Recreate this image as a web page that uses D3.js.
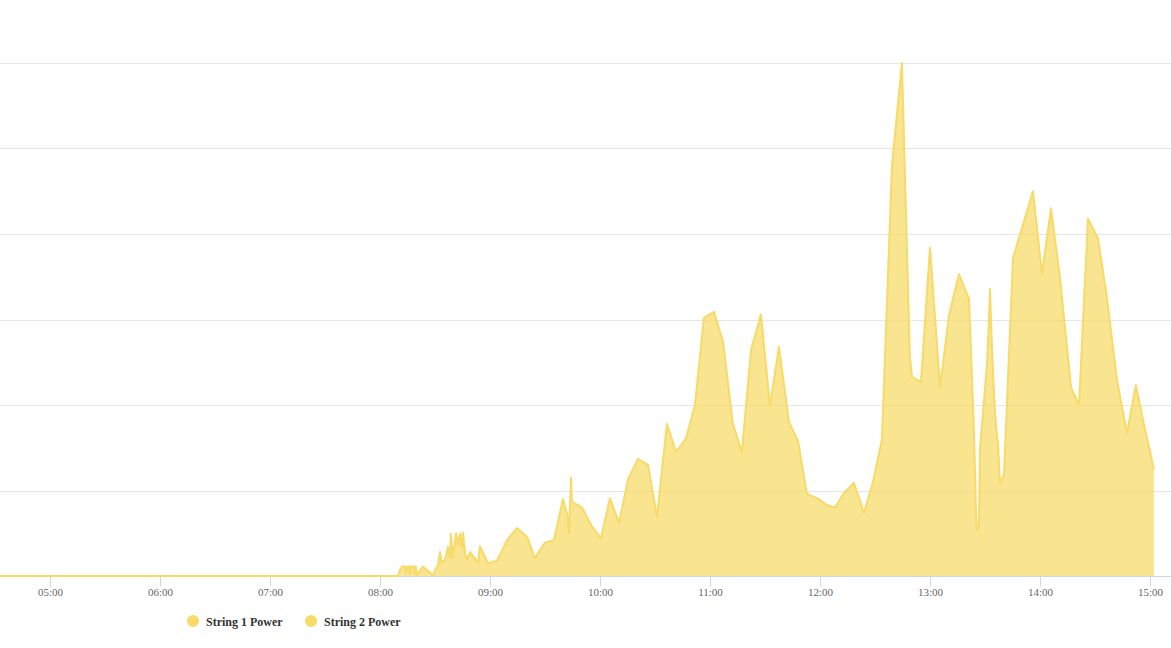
<!DOCTYPE html>
<html>
<head>
<meta charset="utf-8">
<script src="https://cdn.jsdelivr.net/npm/d3@7"></script>
<style>
  html, body { margin: 0; padding: 0; background: #ffffff; }
  svg { display: block; }
</style>
</head>
<body>
<svg id="chart" width="1171" height="648"></svg>
<script>
// ---- data ----
const seriesNames = ["String 1 Power", "String 2 Power"];
const string1Times = [
  "04:32:44","08:09:48","08:10:54","08:12:00","08:13:36","08:14:12","08:14:42","08:15:48","08:16:24","08:16:54",
  "08:18:30","08:19:06","08:19:36","08:20:12","08:23:24","08:28:54","08:30:30","08:31:36","08:32:42","08:33:48",
  "08:35:30","08:37:06","08:38:12","08:38:42","08:39:48","08:41:30","08:42:30","08:43:36","08:44:42","08:45:18",
  "08:46:24","08:47:30","08:49:06","08:53:30","08:54:30","08:58:54","09:03:48","09:09:18","09:14:42","09:20:12",
  "09:24:30","09:30:00","09:34:54","09:39:48","09:42:30","09:43:06","09:44:12","09:44:42","09:50:12","09:55:36",
  "10:00:30","10:05:24","10:10:24","10:15:18","10:20:42","10:26:12","10:31:06","10:36:30","10:41:30","10:46:54",
  "10:51:48","10:56:42","11:02:12","11:07:06","11:12:30","11:17:24","11:22:24","11:27:48","11:32:42","11:37:36",
  "11:43:06","11:48:00","11:52:54","11:58:24","12:03:48","12:08:12","12:13:06","12:18:30","12:24:00","12:28:54",
  "12:33:48","12:39:18","12:44:42","12:49:00","12:50:12","12:55:06","13:00:00","13:05:30","13:10:24","13:15:48",
  "13:21:18","13:24:00","13:25:06","13:25:36","13:26:42","13:27:18","13:31:06","13:32:12","13:32:42","13:33:48",
  "13:35:30","13:37:06","13:38:12","13:40:24","13:45:18","13:56:12","14:01:06","14:06:00","14:10:54","14:16:54",
  "14:21:18","14:26:12","14:31:36","14:36:30","14:42:00","14:47:24","14:52:18","14:57:18","15:02:12"
];
const string1Values = [
  0, 0, 7, 11, 11, 3, 11, 11, 2, 11,
  11, 3, 11, 1, 11, 1, 9, 12, 28, 15,
  19, 34, 21, 49, 22, 50, 36, 50, 33, 51,
  27, 19, 28, 16, 35, 15, 18, 42, 56, 46,
  21, 39, 42, 90, 69, 50, 115, 87, 80, 58,
  44, 91, 62, 113, 137, 130, 69, 178, 145, 161,
  200, 302, 309, 274, 178, 145, 264, 306, 199, 268,
  180, 158, 96, 91, 83, 80, 97, 109, 74, 110,
  159, 481, 600, 257, 233, 227, 384, 221, 305, 353,
  324, 168, 75, 54, 58, 149, 248, 301, 336, 268,
  188, 154, 108, 120, 372, 450, 353, 430, 349, 221,
  200, 418, 395, 326, 229, 167, 223, 171, 125
];
const string2Times = [];
const string2Values = [];
const xDomainTimes = ["04:32:44", "15:11:28"];
const tickLabels = ["05:00","06:00","07:00","08:00","09:00","10:00","11:00","12:00","13:00","14:00","15:00"];
const yDomain = [0, 600];
const yGridValues = [100, 200, 300, 400, 500, 600];

// ---- chart ----
const W = 1171, H = 648;
const plot = { left: 0, right: 1171, top: 63, bottom: 576 };
const parseT = d3.timeParse("%Y-%m-%d %H:%M:%S");
const toDate = s => parseT("2024-06-01 " + s);

const colorLine = "#f7da68";
const colorFill = "#f7da64";

const svg = d3.select("#chart");

const x = d3.scaleTime()
  .domain(xDomainTimes.map(toDate))
  .range([plot.left, plot.right]);
const y = d3.scaleLinear().domain(yDomain).range([plot.bottom, plot.top]);

// grid
svg.append("g")
  .attr("class", "grid")
  .selectAll("line")
  .data(yGridValues)
  .join("line")
  .attr("x1", plot.left).attr("x2", plot.right)
  .attr("y1", d => Math.round(y(d)) + 0.5).attr("y2", d => Math.round(y(d)) + 0.5)
  .attr("stroke", "#e6e6e6").attr("stroke-width", 1);

// x axis
const tickDates = tickLabels.map(s => toDate(s + ":00"));
const xAxis = d3.axisBottom(x)
  .tickValues(tickDates)
  .tickFormat((d, i) => tickLabels[i])
  .tickSize(10)
  .tickPadding(2);
const gx = svg.append("g")
  .attr("transform", `translate(0,${plot.bottom + 0.5})`)
  .call(xAxis);
gx.select(".domain").remove();
gx.append("line")
  .attr("x1", plot.left).attr("x2", plot.right)
  .attr("y1", 0).attr("y2", 0)
  .attr("stroke", "#ccd6eb").attr("stroke-width", 1);
gx.selectAll(".tick line").attr("stroke", "#ccd6eb");
gx.selectAll(".tick text")
  .attr("fill", "#666666")
  .style("font-family", "'Liberation Serif', 'Times New Roman', serif")
  .style("font-size", "11px");

// series
const seriesData = [
  { name: seriesNames[0], pts: string1Times.map((t, i) => ({ t: toDate(t), v: string1Values[i] })) },
  { name: seriesNames[1], pts: string2Times.map((t, i) => ({ t: toDate(t), v: string2Values[i] })) }
];

const area = d3.area()
  .x(d => x(d.t))
  .y0(y(0))
  .y1(d => y(d.v));
const line = d3.line()
  .x(d => x(d.t))
  .y(d => y(d.v));

const gs = svg.append("g").attr("class", "series");
seriesData.forEach(s => {
  if (!s.pts.length) return;
  gs.append("path")
    .datum(s.pts)
    .attr("d", area)
    .attr("fill", colorFill)
    .attr("fill-opacity", 0.72);
  gs.append("path")
    .datum(s.pts)
    .attr("d", line)
    .attr("fill", "none")
    .attr("stroke", colorLine)
    .attr("stroke-width", 2)
    .attr("stroke-linejoin", "round");
});

// legend
const legend = svg.append("g").attr("class", "legend");
const legendX = [193, 311];
seriesNames.forEach((n, i) => {
  const g = legend.append("g").attr("transform", `translate(${legendX[i]},621)`);
  g.append("circle").attr("r", 6).attr("fill", colorLine);
  g.append("text")
    .attr("x", 13).attr("y", 4.5)
    .text(n)
    .attr("fill", "#333333")
    .style("font-family", "'Liberation Serif', 'Times New Roman', serif")
    .style("font-weight", "bold")
    .style("font-size", "12px");
});
</script>
</body>
</html>
